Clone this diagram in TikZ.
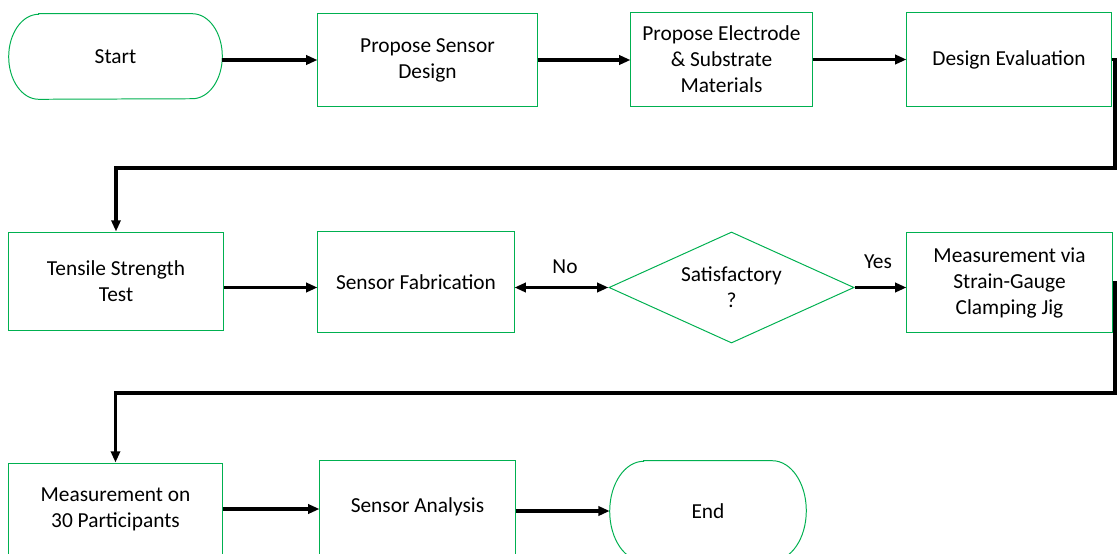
\documentclass[tikz,border=0pt]{standalone}
\usepackage{fontspec}
\setmainfont{Carlito}
\usepackage{tikz}
\usetikzlibrary{arrows.meta,shapes.geometric}
\definecolor{boxgreen}{RGB}{0,176,80}

\begin{document}
\begin{tikzpicture}[x=0.025cm,y=-0.025cm]
\tikzstyle{every node}+=[inner sep=0pt,font=\fontsize{15.2}{18.5}\selectfont,align=center]
\tikzstyle{box}=[draw=boxgreen,line width=0.7pt,rectangle]
\tikzstyle{terminal}=[rectangle]
\tikzstyle{flow}=[black,line width=2.2pt,-{Triangle[length=8pt,width=6.5pt]}]
\useasboundingbox (0,0) rectangle (1117,553);
\node [terminal,minimum width=5.325cm,minimum height=2.125cm] (start) at (115.5,56.5) {Start};
\draw [boxgreen,line width=0.7pt] ([xshift=0.75cm]start.north west) -- ([xshift=-0.75cm]start.north east) arc (90:-90:0.75cm and 1.0625cm) -- ([xshift=0.75cm]start.south west) arc (270:90:0.75cm and 1.0625cm) -- cycle;
\node [box,minimum width=5.475cm,minimum height=2.3cm] (design) at (427.5,60) {Propose Sensor\\Design};
\node [box,minimum width=4.525cm,minimum height=2.325cm] (material) at (721.5,59.5) {Propose Electrode\\\& Substrate\\Materials};
\node [box,minimum width=5.1cm,minimum height=2.325cm] (evaluation) at (1009,59.5) {Design Evaluation};
\node [box,minimum width=5.35cm,minimum height=2.45cm] (tensile) at (116,281) {Tensile Strength\\Test};
\node [box,minimum width=4.9cm,minimum height=2.5cm] (fabrication) at (416,282) {Sensor Fabrication};
\node [draw=boxgreen,line width=0.7pt,diamond,aspect=2.2,minimum width=6.125cm,minimum height=2.775cm] (satisfy) at (731.5,287.5) {Satisfactory\\?};
\node [box,minimum width=5.125cm,minimum height=2.475cm] (mview) at (1009.5,282.5) {Measurement via\\Strain-Gauge\\Clamping Jig};
\node [box,minimum width=5.325cm,minimum height=2.3cm] (participants) at (115.5,509) {Measurement on\\30 Participants};
\node [box,minimum width=4.875cm,minimum height=2.35cm] (analysis) at (417.5,507) {Sensor Analysis};
\node [terminal,minimum width=4.9cm,minimum height=2.5cm] (finish) at (708,511) {End};
\draw [boxgreen,line width=0.7pt] ([xshift=0.85cm]finish.north west) -- ([xshift=-0.85cm]finish.north east) arc (90:-90:0.85cm and 1.25cm) -- ([xshift=0.85cm]finish.south west) arc (270:90:0.85cm and 1.25cm) -- cycle;
\node (no) at (565,267) {No};
\node (yes) at (878,262) {Yes};
\coordinate (bendA) at (1115,168);
\coordinate (bendB) at (1115,393);
\draw [flow] (start.east |- design.west) -- (design.west);
\draw [flow] (design.east) -- (material.west |- design.east);
\draw [flow] (material) -- (evaluation);
\draw [flow] (evaluation.east) -| (bendA) -| (tensile.north);
\draw [flow] (tensile.east |- satisfy.west) -- (fabrication.west |- satisfy.west);
\draw [flow,{Triangle[length=8pt,width=6.5pt]}-{Triangle[length=8pt,width=6.5pt]}] (fabrication.east |- satisfy.west) -- (satisfy.west);
\draw [flow] (satisfy.east) -- (mview.west |- satisfy.east);
\draw [flow] (mview.east) -| (bendB) -| (participants.north);
\draw [flow] (participants) -- (analysis.west |- participants);
\draw [flow] (analysis.east |- finish.west) -- (finish.west);
\end{tikzpicture}
\end{document}
